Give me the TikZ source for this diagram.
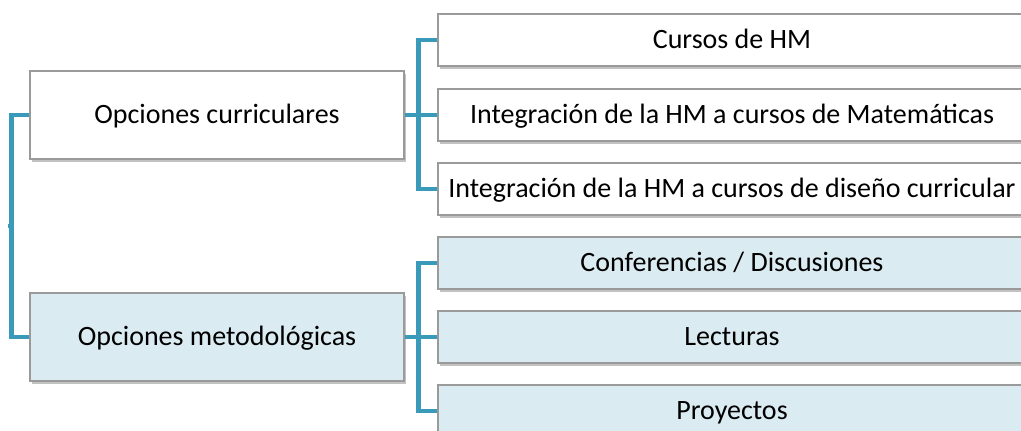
\documentclass[tikz,border=0pt]{standalone}
\usepackage{fontspec}
\setmainfont{Carlito}
\usetikzlibrary{positioning, shadows}

\definecolor{lineaAzul}{HTML}{3A9AB9}
\definecolor{fondoAzul}{HTML}{DAEBF1}
\definecolor{bordeGris}{HTML}{9A9A9A}

\begin{document}
\begin{tikzpicture}[x=1pt, y=-1pt, line cap=butt, line join=miter]

% --------- estilos ----------
\tikzset{
  caja/.style={draw=bordeGris, line width=1.2pt, fill=white, inner sep=0pt,
    font=\fontsize{28}{33}\selectfont, text height=20.5pt, text depth=4.5pt,
    drop shadow={shadow xshift=1.5pt, shadow yshift=-3pt, opacity=0.4, fill=black!60}},
  grande/.style={caja, minimum width=374pt, minimum height=88pt},
  chica/.style={caja, minimum width=588pt, minimum height=52pt},
  azul/.style={fill=fondoAzul},
  conn/.style={draw=lineaAzul, line width=4.5pt}
}
\def\xr{732}   % centro de las cajas de la derecha

% marco (la imagen corta las cajas por la derecha)
\clip (0,0) rectangle (1021,431);

% ===================== nivel 1 =====================
\node[grande] (curr) at (217,115) {Opciones curriculares};
\node[grande, azul] (meto) at (217,337) {Opciones metodológicas};

% ===================== nivel 2: curriculares =====================
\node[chica] (cursos) at (\xr,40)  {Cursos de HM};
\node[chica] (mate)   at (\xr,115) {Integración de la HM a cursos de Matemáticas};
\node[chica] (diseno) at (\xr,189) {Integración de la HM a cursos de diseño curricular};

% ===================== nivel 2: metodológicas =====================
\node[chica, azul] (conf) at (\xr,263) {Conferencias / Discusiones};
\node[chica, azul] (lect) at (\xr,337) {Lecturas};
\node[chica, azul] (proy) at (\xr,411) {Proyectos};

% conectores
\coordinate (raiz) at (8,226);
\draw[conn] (raiz) -- ++(5,0);
\draw[conn] (curr.west) -- ++(-18,0) |- (meto.west);

\draw[conn] (curr.east) -- (mate.west);
\draw[conn] (cursos.west) -- ++(-19,0) |- (diseno.west);

\draw[conn] (meto.east) -- (lect.west);
\draw[conn] (conf.west) -- ++(-19,0) |- (proy.west);

\end{tikzpicture}
\end{document}
